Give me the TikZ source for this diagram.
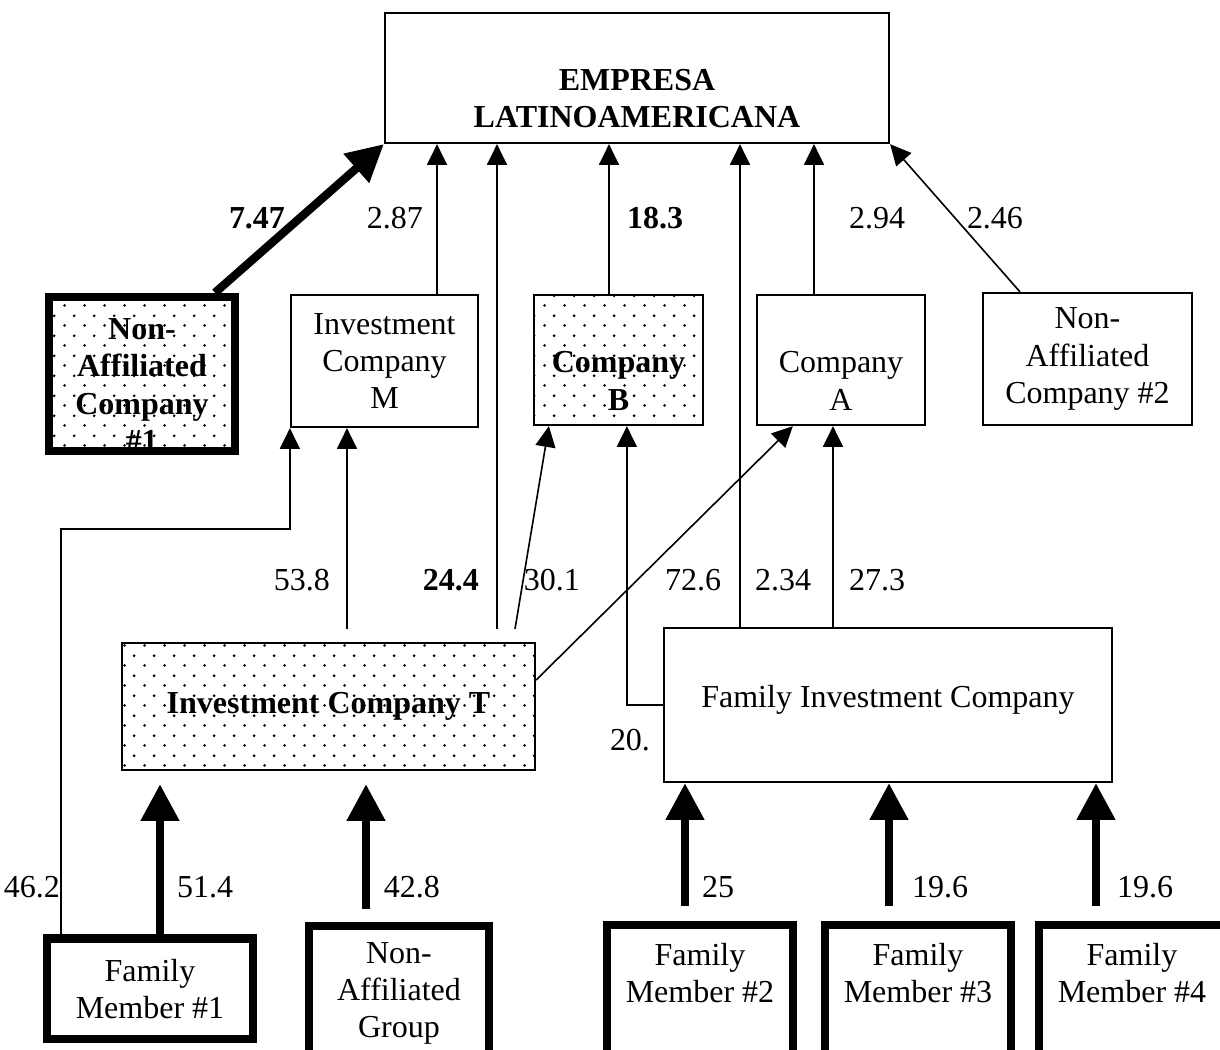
\documentclass[tikz,border=0pt]{standalone}
\usepackage{fontspec}
\setmainfont{Liberation Serif}
\usetikzlibrary{arrows.meta,calc,patterns.meta}
\tikzdeclarepattern{
  name=sparsedots, type=uncolored,
  bottom left={(0pt,0pt)}, top right={(6.25pt,6.25pt)},
  tile size={(6.25pt,6.25pt)},
  code={
    \fill (1.5pt,1.5pt) circle [radius=0.48pt];
    \fill (4.625pt,4.625pt) circle [radius=0.48pt];
  }
}
\def\pxu{0.3125pt}
\def\txt{\fontsize{10}{11.6}\selectfont}
\tikzset{
  firm/.style={draw, line width=0.7pt, align=center, inner sep=0pt},
  heavyfirm/.style={firm, line width=2.6pt},
  speckled/.style={pattern=sparsedots},
  boldtxt/.style={font=\txt\bfseries},
  boxsize/.style 2 args={minimum width=#1*\pxu, minimum height=#2*\pxu},
  link/.style={-{Triangle[width=6.25pt,length=6.5pt]}, line width=0.5pt},
  heavylink/.style={-{Triangle[width=11.5pt,length=11.5pt]}, line width=2.6pt},
  val/.style={inner sep=0pt}
}
\begin{document}
\begin{tikzpicture}[x=\pxu, y=-\pxu, font=\txt]
\useasboundingbox (0,0) rectangle (1220,1050);
\clip (0,0) rectangle (1220,1050);
\node[firm, boxsize={504}{130}, boldtxt] (emp) at (637,78) {\strut\\EMPRESA\\LATINOAMERICANA};
\node[heavyfirm, speckled, boxsize={186.5}{153.5}, boldtxt] (nac1) at (142,374) {\rule{0pt}{13.4pt}Non-\\Affiliated\\Company\\\#1};
\node[firm, boxsize={187}{132}] (invM) at (384.5,361) {Investment\\Company\\M};
\node[firm, speckled, boxsize={169}{130}, boldtxt] (coB) at (618.5,360) {\strut\\Company\\B};
\node[firm, boxsize={168}{130}] (coA) at (841,360) {\strut\\Company\\A};
\node[firm, boxsize={209}{132}] (nac2) at (1087.5,359) {Non-\\Affiliated\\Company \#2};
\node[firm, speckled, boxsize={413}{127}, boldtxt] (invT) at (328.5,706.5) {Investment Company T};
\node[firm, boxsize={448}{154}] (famInv) at (888,705) {Family Investment Company\rule[-5.6pt]{0pt}{0pt}};
\node[heavyfirm, boxsize={206}{100.5}] (fm1) at (150,988.75) {Family\\Member \#1};
\node[heavyfirm, boxsize={180}{135}] (nag) at (399,993.5) {Non-\\Affiliated\\Group};
\foreach \n/\x in {2/700,3/918,4/1132}
  \node[heavyfirm, boxsize={186}{144}] (fm\n) at (\x,997) {Family\\Member \#\n\\\strut};

\draw[heavylink] ($(nac1.north)+(73,0)$) -- (emp.south west);
\draw[link] ($(invM.north)+(52.5,0)$) coordinate (m1) -- (m1 |- emp.south);
\draw[link] ($(coB.north)+(-9.5,0)$) coordinate (b1) -- (b1 |- emp.south);
\draw[link] ($(coA.north)+(-27,0)$) coordinate (a1) -- (a1 |- emp.south);
\draw[link] ($(nac2.north)+(-67.5,0)$) -- (emp.south east);
\draw[link] ($(invT.north)+(168.5,-13)$) coordinate (t1) -- (t1 |- emp.south);
\draw[link] ($(invT.north)+(18.5,-13)$) coordinate (t2) -- (t2 |- invM.south);
\draw[link] ($(invT.north)+(186.5,-13)$) -- ($(coB.south west)+(16,0)$);
\draw[link] ($(invT.east)+(0,-26.5)$) -- ($(coA.south west)+(37,0)$);
\draw[link] (famInv.west) -- ++(-36,0) coordinate (f1) -- (f1 |- coB.south);
\draw[link] ($(famInv.north)+(-148,0)$) coordinate (f2) -- (f2 |- emp.south);
\draw[link] ($(famInv.north)+(-55,0)$) coordinate (f3) -- (f3 |- coA.south);
\draw[link] ($(fm1.north west)+(18,0)$) |- ($(invM.south west)+(0,101)$) -- (invM.south west);

\draw[heavylink] ($(fm1.north)+(10,0)$) -- ($(invT.south)+(-168.5,13)$);
\draw[heavylink] ($(nag.north)+(-33,-13)$) -- ($(invT.south)+(37.5,13)$);
\foreach \n/\a/\b in {2/-15/-203, 3/-29/1, 4/-36/208}
  \draw[heavylink] ($(fm\n.north)+(\a,-15)$) -- ($(famInv.south)+(\b,0)$);

\node[val, boldtxt] (v747) at (257,218) {7.47};
\node[val, boldtxt] (v183) at (655,218) {18.3};
\node[val, boldtxt] (v244) at (451,580) {24.4};
\foreach \v/\x/\y [count=\i] in {2.87/395/218, 2.94/877/218, 2.46/995/218,
  53.8/302/580, 30.1/552/580, 72.6/693/580, 2.34/783/580, 27.3/877/580,
  20./630/740, 46.2/32/887, 51.4/205/887, 42.8/412/887, 25/718/887,
  19.6/940/887, 19.6/1145/887}
  \node[val] (v\i) at (\x,\y) {\v};
\end{tikzpicture}
\end{document}
